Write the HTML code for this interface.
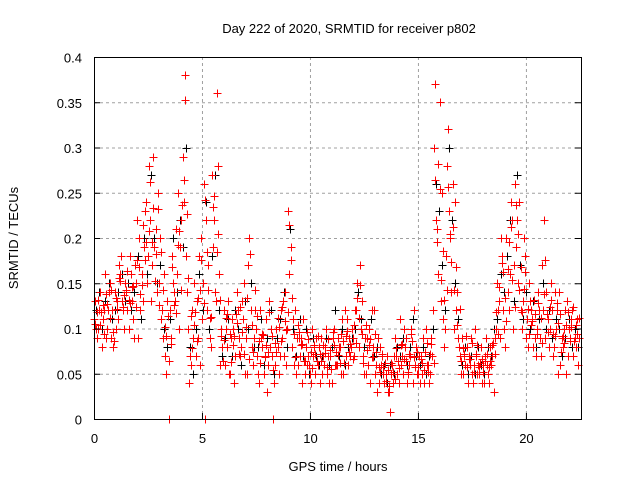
<!DOCTYPE html>
<html><head><meta charset="utf-8"><style>
body{margin:0;background:#fff;}
svg{display:block;font-family:"Liberation Sans",sans-serif;}
</style></head><body>
<svg id="chart" width="640" height="480"></svg>
<script>
const xTicks=[0,5,10,15,20];
const yTicks=[0,0.05,0.1,0.15,0.2,0.25,0.3,0.35,0.4];
const yTickLabels=["0","0.05","0.1","0.15","0.2","0.25","0.3","0.35","0.4"];
const step=0.15;
const redA=[0.11,0.09,0.14,0.12,0.10,0.15,0.08,0.13,0.16,0.12,
0.14,0.18,0.11,0.15,0.20,0.13,0.24,0.28,0.17,0.21,
0.15,0.12,0.07,0.0,0.18,0.13,0.25,0.22,0.38,0.10,
0.06,0.15,0.09,0.20,0.26,0.12,0.08,0.22,0.36,0.06,
0.12,0.08,0.05,0.10,0.14,0.07,0.11,0.09,0.20,0.06,
0.10,0.04,0.08,0.11,0.13,0.07,0.06,0.05,0.09,0.14,
0.23,0.08,0.12,0.06,0.09,0.05,0.07,0.04,0.08,0.06,
0.09,0.06,0.05,0.07,0.10,0.06,0.08,0.05,0.11,0.07,
0.09,0.12,0.17,0.07,0.05,0.10,0.08,0.06,0.04,0.07,
0.05,0.03,0.06,0.09,0.04,0.07,0.08,0.05,0.10,0.06,
0.05,0.07,0.04,0.06,0.09,0.30,0.21,0.13,0.08,0.28,
0.20,0.10,0.14,0.07,0.05,0.08,0.06,0.04,0.07,0.05,
0.06,0.09,0.04,0.07,0.10,0.13,0.18,0.08,0.12,0.22,
0.26,0.15,0.10,0.18,0.08,0.12,0.09,0.14,0.07,0.22,
0.11,0.15,0.08,0.12,0.06,0.10,0.13,0.09,0.07,0.11];
const redB=[0.13,0.10,0.08,0.16,0.12,0.09,0.14,0.11,0.18,0.10,
0.12,0.16,0.09,0.22,0.12,0.19,0.15,0.22,0.29,0.14,
0.20,0.09,0.05,0.12,0.15,0.21,0.10,0.29,0.18,0.04,
0.12,0.07,0.18,0.11,0.0,0.17,0.27,0.14,0.28,0.10,
0.06,0.13,0.09,0.04,0.12,0.08,0.15,0.05,0.12,0.09,
0.07,0.12,0.05,0.03,0.08,0.0,0.10,0.07,0.13,0.06,
0.16,0.11,0.05,0.09,0.04,0.08,0.06,0.10,0.05,0.08,
0.05,0.08,0.07,0.04,0.06,0.09,0.05,0.12,0.06,0.08,
0.07,0.15,0.10,0.05,0.09,0.04,0.12,0.03,0.08,0.05,
0.07,0.008,0.04,0.07,0.11,0.05,0.09,0.06,0.04,0.08,
0.07,0.05,0.10,0.04,0.07,0.37,0.16,0.25,0.10,0.32,
0.14,0.24,0.09,0.05,0.07,0.04,0.09,0.06,0.05,0.08,
0.04,0.06,0.08,0.03,0.15,0.09,0.12,0.20,0.16,0.10,
0.19,0.24,0.13,0.09,0.15,0.11,0.07,0.12,0.17,0.09,
0.08,0.12,0.14,0.05,0.09,0.12,0.07,0.11,0.09,0.06];
const redC=[0.10,0.12,0.11,0.09,0.14,0.12,0.10,0.17,0.13,0.15,
0.10,0.13,0.17,0.09,0.16,0.23,0.18,0.13,0.19,0.25,
0.11,0.16,0.13,0.09,0.14,0.16,0.19,0.24,0.14,0.07,
0.09,0.13,0.06,0.15,0.22,0.09,0.19,0.13,0.16,0.08,
0.10,0.05,0.11,0.07,0.09,0.13,0.05,0.17,0.08,0.12,
0.05,0.09,0.07,0.06,0.10,0.04,0.08,0.12,0.07,0.10,
0.19,0.06,0.09,0.07,0.11,0.06,0.05,0.07,0.09,0.04,
0.07,0.10,0.04,0.09,0.06,0.08,0.11,0.07,0.09,0.10,
0.12,0.08,0.13,0.09,0.06,0.12,0.05,0.09,0.06,0.04,
0.03,0.05,0.07,0.05,0.06,0.10,0.04,0.07,0.12,0.05,
0.04,0.09,0.06,0.05,0.12,0.22,0.35,0.11,0.18,0.23,
0.26,0.12,0.08,0.09,0.06,0.07,0.05,0.10,0.06,0.04,
0.07,0.05,0.06,0.09,0.12,0.20,0.10,0.14,0.24,0.17,
0.22,0.12,0.20,0.11,0.13,0.08,0.10,0.09,0.12,0.14,
0.10,0.07,0.10,0.14,0.08,0.05,0.10,0.12,0.08,0.09];
const redD=[0.105,0.132,0.118,0.094,0.127,0.143,0.086,0.121,0.152,0.137,
0.163,0.128,0.147,0.176,0.138,0.214,0.196,0.262,0.233,0.182,
0.126,0.143,0.092,0.064,0.168,0.117,0.208,0.236,0.352,0.156,
0.078,0.118,0.134,0.176,0.242,0.143,0.113,0.246,0.204,0.092,
0.087,0.116,0.063,0.092,0.106,0.124,0.072,0.134,0.182,0.074,
0.114,0.062,0.093,0.082,0.118,0.054,0.074,0.102,0.124,0.098,
0.214,0.134,0.068,0.096,0.083,0.064,0.088,0.056,0.072,0.092,
0.064,0.073,0.088,0.055,0.082,0.071,0.094,0.062,0.097,0.083,
0.104,0.134,0.148,0.062,0.076,0.088,0.068,0.074,0.052,0.058,
0.042,0.036,0.052,0.078,0.056,0.083,0.064,0.072,0.086,0.058,
0.058,0.062,0.074,0.052,0.083,0.264,0.282,0.154,0.132,0.256,
0.174,0.142,0.104,0.064,0.072,0.058,0.066,0.052,0.082,0.062,
0.052,0.072,0.064,0.084,0.118,0.146,0.162,0.108,0.196,0.154,
0.236,0.142,0.118,0.162,0.094,0.108,0.116,0.128,0.084,0.176,
0.096,0.132,0.092,0.106,0.074,0.084,0.118,0.102,0.086,0.094];
const redE=[0.118,0.104,0.126,0.138,0.112,0.096,0.134,0.156,0.124,0.142,
0.132,0.146,0.124,0.168,0.148,0.176,0.208,0.196,0.152,0.232,
0.184,0.102,0.114,0.083,0.126,0.192,0.142,0.264,0.226,0.114,
0.104,0.086,0.142,0.128,0.184,0.112,0.234,0.184,0.132,0.064,
0.112,0.094,0.082,0.116,0.072,0.096,0.102,0.066,0.104,0.142,
0.086,0.094,0.068,0.074,0.092,0.084,0.112,0.086,0.108,0.118,
0.176,0.094,0.104,0.082,0.064,0.096,0.074,0.082,0.064,0.072,
0.082,0.058,0.076,0.096,0.074,0.062,0.086,0.092,0.074,0.066,
0.084,0.112,0.094,0.104,0.082,0.068,0.094,0.058,0.072,0.062,
0.054,0.062,0.044,0.064,0.082,0.066,0.052,0.094,0.068,0.074,
0.066,0.054,0.084,0.072,0.062,0.196,0.254,0.186,0.142,0.204,
0.212,0.168,0.122,0.078,0.092,0.066,0.084,0.072,0.058,0.066,
0.064,0.058,0.082,0.072,0.094,0.172,0.134,0.166,0.212,0.124,
0.204,0.168,0.144,0.122,0.104,0.132,0.094,0.112,0.138,0.116,
0.124,0.094,0.128,0.116,0.092,0.104,0.086,0.124,0.104,0.112];
const black=[0.12,0.14,0.10,0.13,0.15,0.11,0.12,0.14,0.16,0.13,
0.15,0.12,0.14,0.18,0.11,0.20,0.16,0.27,0.20,0.15,
0.17,0.10,0.08,0.11,0.20,0.14,0.22,0.19,0.30,0.08,
0.05,0.10,0.16,0.12,0.24,0.10,0.18,0.27,0.12,0.07,
0.09,0.11,0.07,0.12,0.10,0.06,0.13,0.10,0.15,0.08,
0.08,0.11,0.06,0.09,0.12,0.05,0.09,0.11,0.14,0.08,
0.21,0.10,0.07,0.11,0.07,0.10,0.05,0.09,0.07,0.06,
0.07,0.09,0.06,0.08,0.12,0.07,0.10,0.06,0.08,0.09,
0.10,0.14,0.11,0.08,0.06,0.11,0.07,0.08,0.05,0.06,
0.04,0.06,0.05,0.08,0.07,0.09,0.06,0.08,0.11,0.07,
0.06,0.08,0.05,0.07,0.10,0.26,0.23,0.17,0.12,0.30,
0.22,0.15,0.11,0.06,0.08,0.05,0.07,0.05,0.08,0.06,
0.05,0.08,0.07,0.10,0.11,0.16,0.14,0.18,0.22,0.13,
0.27,0.17,0.11,0.14,0.10,0.13,0.08,0.11,0.15,0.10,
0.12,0.09,0.11,0.10,0.07,0.09,0.11,0.08,0.10,0.08];

const L=94,R=581,T=57,B=419,XMAX=22.55,YMAX=0.4;
const X=v=>L+v/XMAX*(R-L);
const Y=v=>B-v/YMAX*(B-T);
const svg=document.getElementById('chart');
const NS='http://www.w3.org/2000/svg';
function mk(tag,attrs,parent){const e=document.createElementNS(NS,tag);for(const k in attrs)e.setAttribute(k,attrs[k]);(parent||svg).appendChild(e);return e;}

const grid=mk('g',{stroke:'#a0a0a0','stroke-dasharray':'3,3','stroke-width':1});


yTicks.forEach((v,i)=>{if(i>0&&i<yTicks.length-1)mk('line',{x1:L,x2:R,y1:Y(v)+0.5,y2:Y(v)+0.5},grid);});
xTicks.forEach((v,i)=>{if(i>0)mk('line',{x1:X(v)+0.5,x2:X(v)+0.5,y1:T,y2:B},grid);});

function series(arr,offset,color,name){
  const g=mk('g',{stroke:color,'stroke-width':1,fill:'none'});
  
  
  arr.forEach((v,i)=>{
    const cx=Math.round(X(i*step+offset))+0.5, cy=Math.round(Y(v))+0.5;
    const p=mk('path',{d:`M${cx-4},${cy}H${cx+4}M${cx},${cy-4}V${cy+4}`},g);
    
    
  });
}
series(black,0.075,'#000','black-series');
series(redA,0,'#ff0000','red-series-a');
series(redB,0.05,'#ff0000','red-series-b');
series(redC,0.1,'#ff0000','red-series-c');
series(redD,0.025,'#ff0000','red-series-d');
series(redE,0.125,'#ff0000','red-series-e');

const axes=mk('rect',{x:L+0.5,y:T+0.5,width:R-L,height:B-T,fill:'none',stroke:'#000','stroke-width':1});



const tg=mk('g',{stroke:'#000','stroke-width':1});


const lg=mk('g',{'font-size':'13',fill:'#000'});


yTicks.forEach((v,i)=>{
  const y=Y(v)+0.5;
  mk('line',{x1:L,x2:L+6,y1:y,y2:y},tg);mk('line',{x1:R-6,x2:R,y1:y,y2:y},tg);
  const t=mk('text',{x:L-12,y:y+5,'text-anchor':'end'},lg);t.textContent=yTickLabels[i];
  
  
});
xTicks.forEach(v=>{
  const x=X(v)+0.5;
  mk('line',{x1:x,x2:x,y1:B-6,y2:B},tg);
  const t=mk('text',{x:x,y:B+24,'text-anchor':'middle'},lg);t.textContent=String(v);
  
  
});
</script>
<script>
(function(){
const svg=document.getElementById('chart');const NS='http://www.w3.org/2000/svg';
function txt(s,attrs,name){const e=document.createElementNS(NS,'text');for(const k in attrs)e.setAttribute(k,attrs[k]);e.textContent=s;


svg.appendChild(e);}
txt('Day 222 of 2020, SRMTID for receiver p802',{x:349,y:33,'text-anchor':'middle','font-size':'13'},'chart-title');
txt('GPS time / hours',{x:338,y:471,'text-anchor':'middle','font-size':'13'},'x-axis-title');
txt('SRMTID / TECUs',{x:0,y:0,'text-anchor':'middle','font-size':'13',transform:'translate(18,238) rotate(-90)'},'y-axis-title');
})();
</script>
</body></html>
